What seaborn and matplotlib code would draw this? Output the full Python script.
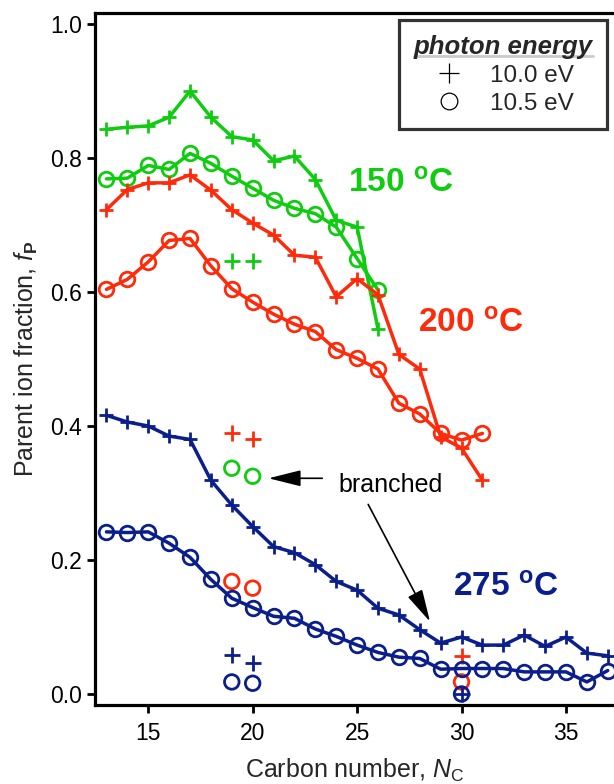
import matplotlib
matplotlib.use("Agg")
import matplotlib.pyplot as plt
from matplotlib.lines import Line2D
from matplotlib.ticker import FormatStrFormatter
import pandas as pd
import seaborn as sns

# data (parent ion fraction vs carbon number)
c_150 = list(range(13, 27))
c_200 = list(range(13, 32))
c_275 = list(range(13, 38))

g_plus = [0.843, 0.846, 0.848, 0.861, 0.900, 0.861, 0.832, 0.827, 0.796, 0.803,
          0.768, 0.707, 0.697, 0.545]
g_circ = [0.769, 0.770, 0.789, 0.783, 0.807, 0.792, 0.773, 0.755, 0.737, 0.725,
          0.717, 0.697, 0.650, 0.603]
r_plus = [0.723, 0.753, 0.763, 0.763, 0.775, 0.752, 0.723, 0.703, 0.685, 0.655,
          0.652, 0.593, 0.620, 0.596, 0.507, 0.485, 0.384, 0.367, 0.319]
r_circ = [0.604, 0.619, 0.645, 0.677, 0.680, 0.639, 0.605, 0.585, 0.567, 0.552,
          0.541, 0.514, 0.501, 0.485, 0.434, 0.418, 0.389, 0.379, 0.389]
b_plus = [0.416, 0.406, 0.400, 0.385, 0.380, 0.319, 0.282, 0.250, 0.220, 0.211,
          0.193, 0.168, 0.155, 0.128, 0.118, 0.096, 0.076, 0.085, 0.073, 0.073,
          0.088, 0.071, 0.085, 0.061, 0.057]
b_circ = [0.242, 0.241, 0.242, 0.225, 0.204, 0.171, 0.143, 0.129, 0.116, 0.113,
          0.097, 0.086, 0.073, 0.062, 0.055, 0.053, 0.037, 0.038, 0.038, 0.038,
          0.033, 0.033, 0.033, 0.018, 0.035]

# branched isomers (no connecting line)
br_c = [19, 20]
br_g_plus = [0.647, 0.647]
br_g_circ = [0.337, 0.325]
br_r_plus = [0.390, 0.380]
br_r_circ = [0.168, 0.158]
br_b_plus = [0.058, 0.047]
br_b_circ = [0.018, 0.016]
br30_c = [30]
br30_r_plus = [0.057]
br30_r_circ = [0.018]
br30_b_plus = [0.0]
br30_b_circ = [0.0]

temps = ['150', '200', '275']
colors = {'150': '#10CC10', '200': '#FF2A0A', '275': '#0A1E8C'}
energies = ['10.0 eV', '10.5 eV']
markers = {'10.0 eV': '+', '10.5 eV': 'o'}

rows = []
for t, cs, plus, circ in [('150', c_150, g_plus, g_circ),
                          ('200', c_200, r_plus, r_circ),
                          ('275', c_275, b_plus, b_circ)]:
    for c, v in zip(cs, plus):
        rows.append({'C': c, 'fP': v, 'T': t, 'E': '10.0 eV'})
    for c, v in zip(cs, circ):
        rows.append({'C': c, 'fP': v, 'T': t, 'E': '10.5 eV'})
df = pd.DataFrame(rows)

br_rows = []
for t, cs, plus, circ in [('150', br_c, br_g_plus, br_g_circ),
                          ('200', br_c, br_r_plus, br_r_circ),
                          ('275', br_c, br_b_plus, br_b_circ),
                          ('200', br30_c, br30_r_plus, br30_r_circ),
                          ('275', br30_c, br30_b_plus, br30_b_circ)]:
    for c, v in zip(cs, plus):
        br_rows.append({'C': c, 'fP': v, 'T': t, 'E': '10.0 eV'})
    for c, v in zip(cs, circ):
        br_rows.append({'C': c, 'fP': v, 'T': t, 'E': '10.5 eV'})
br = pd.DataFrame(br_rows)

sns.set_theme(style="ticks")
plt.rcParams['font.family'] = ['Liberation Sans', 'DejaVu Sans']
plt.rcParams['mathtext.fontset'] = 'custom'
plt.rcParams['mathtext.rm'] = 'Liberation Sans'
plt.rcParams['mathtext.it'] = 'Liberation Sans:italic'
plt.rcParams['mathtext.bf'] = 'Liberation Sans:bold'

fig = plt.figure(figsize=(6.14, 7.84), dpi=100)
ax = fig.add_axes([0.1547, 0.1008, 0.8453, 0.883])

# connected series
for t in temps:
    for e in energies:
        sub = df[(df['T'] == t) & (df['E'] == e)]
        sns.lineplot(data=sub, x='C', y='fP', color=colors[t], lw=2.5,
                     marker=markers[e], ms=10.5, mew=2, mfc='none',
                     mec=colors[t], legend=False, ax=ax)

# branched points
for t in temps:
    for e in energies:
        sub = br[(br['T'] == t) & (br['E'] == e)]
        if sub.empty:
            continue
        if e == '10.0 eV':
            sns.scatterplot(data=sub, x='C', y='fP', marker='+', s=120,
                            color=colors[t], linewidth=2, ax=ax, legend=False)
        else:
            sns.scatterplot(data=sub, x='C', y='fP', marker='o', s=110,
                            facecolors='none', edgecolor=colors[t],
                            linewidth=2, ax=ax, legend=False)

ax.set_xlim(12.45, 37.3)
ax.set_ylim(-0.0164, 1.017)
ax.set_xticks([15, 20, 25, 30, 35])
ax.set_yticks([0.0, 0.2, 0.4, 0.6, 0.8, 1.0])
ax.yaxis.set_major_formatter(FormatStrFormatter('%.1f'))
ax.tick_params(direction='out', length=5.5, width=2, labelsize=16.5,
               colors='black')
ax.tick_params(axis='x', pad=7)
ax.tick_params(axis='y', pad=4)
for s in ['left', 'bottom', 'top']:
    ax.spines[s].set_linewidth(2.3)
    ax.spines[s].set_color('black')
ax.spines['right'].set_visible(False)

ax.set_xlabel(r'Carbon number, $\mathit{N}_{\mathrm{C}}$', fontsize=18, labelpad=8)
ax.set_ylabel(r'Parent ion fraction, $\mathit{f}_{\mathbf{P}}$', fontsize=18, labelpad=7)

# temperature labels
ax.text(24.57, 0.748, r'150 $^{\mathbf{o}}$C', color=colors['150'], fontsize=24,
        fontweight='bold', ha='left', va='baseline')
ax.text(27.92, 0.540, r'200 $^{\mathbf{o}}$C', color=colors['200'], fontsize=24,
        fontweight='bold', ha='left', va='baseline')
ax.text(29.59, 0.145, r'275 $^{\mathbf{o}}$C', color=colors['275'], fontsize=24,
        fontweight='bold', ha='left', va='baseline')

# branched annotation
ax.text(26.6, 0.312, 'branched', fontsize=18, ha='center', va='center', color='black')
arrow = dict(arrowstyle='-|>,head_length=1.0,head_width=0.25', lw=1.2,
             color='black', mutation_scale=20, shrinkA=0, shrinkB=0)
ax.annotate('', xy=(20.76, 0.322), xytext=(23.33, 0.322), arrowprops=arrow)
ax.annotate('', xy=(28.49, 0.108), xytext=(25.53, 0.283), arrowprops=arrow)

handles = [Line2D([], [], marker='+', ls='', color='black', ms=14, mew=0.9),
           Line2D([], [], marker='o', ls='', color='black', mfc='none', ms=12, mew=0.9)]
leg = fig.legend(handles, energies, title='photon energy', loc='upper left',
                 bbox_to_anchor=(0.650, 0.9745), bbox_transform=fig.transFigure,
                 fontsize=17.5, title_fontproperties={'size': 18.5, 'weight': 'bold',
                                                      'style': 'italic'},
                 frameon=True, fancybox=False, edgecolor='black',
                 handlelength=1.4, handletextpad=1.0, labelspacing=0.25,
                 borderpad=0.6, borderaxespad=0)
leg.get_frame().set_linewidth(2.3)

# underline the legend title
fig.canvas.draw()
bb = leg.get_title().get_window_extent().transformed(fig.transFigure.inverted())
fig.add_artist(Line2D([bb.x0, bb.x1], [bb.y0 + 0.003, bb.y0 + 0.003],
                      transform=fig.transFigure, color='black', lw=2))

plt.savefig('out.png', dpi=100)
